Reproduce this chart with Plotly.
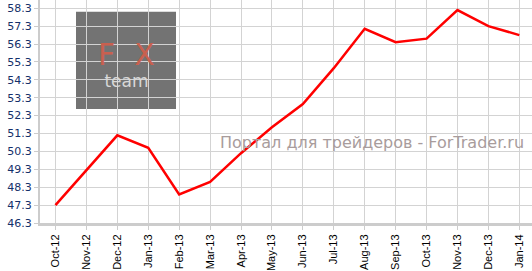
import plotly.graph_objects as go

months = ["Oct-12", "Nov-12", "Dec-12", "Jan-13", "Feb-13", "Mar-13", "Apr-13", "May-13",
          "Jun-13", "Jul-13", "Aug-13", "Sep-13", "Oct-13", "Nov-13", "Dec-13", "Jan-14"]
values = [47.3, 49.25, 51.2, 50.5, 47.9, 48.6, 50.2, 51.65,
          52.95, 54.95, 57.15, 56.4, 56.6, 58.2, 57.3, 56.8]
y_ticks = [46.3, 47.3, 48.3, 49.3, 50.3, 51.3, 52.3, 53.3, 54.3, 55.3, 56.3, 57.3, 58.3]

fig = go.Figure()
fig.add_trace(go.Scatter(x=list(range(len(months))), y=values, mode="lines",
                         line=dict(color="#ff0000", width=2.5), hoverinfo="skip"))

grid = "#d3d3d3"
fig.update_layout(
    width=532, height=271,
    margin=dict(l=40, r=0, t=0, b=42),
    paper_bgcolor="white", plot_bgcolor="white",
    showlegend=False,
    xaxis=dict(
        range=[-0.5, 15.41], tickmode="array", tickvals=list(range(len(months))),
        ticktext=months, tickangle=-90, showgrid=True, gridcolor=grid, gridwidth=1,
        showline=True, linecolor="#cccccc", linewidth=3,
        ticks="outside", ticklen=4, tickcolor="#cccccc", tickwidth=1,
        tickfont=dict(family="Liberation Sans, Arial", size=11, color="#000000"),
        zeroline=False,
    ),
    yaxis=dict(
        range=[46.3, 58.76], tickmode="array", tickvals=y_ticks,
        ticktext=[f"{v:.1f}" for v in y_ticks],
        showgrid=True, gridcolor=grid, gridwidth=1,
        showline=True, linecolor="#cccccc", linewidth=2,
        ticks="outside", ticklen=4, tickcolor="#cccccc", tickwidth=1,
        tickfont=dict(family="DejaVu Sans, Verdana", size=11, color="#14306a"),
        zeroline=False,
    ),
)

# logo box (paper coords converted from pixels)
W, H = 532 - 40, 271 - 42
def px(x):
    return (x - 40) / W
def py(y):
    return 1 - y / H

fig.add_shape(type="rect", xref="paper", yref="paper",
              x0=px(76), x1=px(176), y0=py(112), y1=py(12),
              fillcolor="#737373", line=dict(width=0), layer="below")
fig.add_annotation(xref="paper", yref="paper", x=px(126), y=py(66),
                   text='<span style="color:#c9604f;font-size:30px">F  X</span><br>team',
                   showarrow=False, xanchor="center", yanchor="middle",
                   font=dict(family="DejaVu Sans", size=17, color="#d8d8d8"))
fig.add_annotation(xref="paper", yref="paper", x=px(526), y=py(146),
                   text="Портал для трейдеров - ForTrader.ru",
                   showarrow=False, xanchor="right", yanchor="middle",
                   font=dict(family="DejaVu Sans, Verdana", size=16, color="#a89c9c"))

fig.write_html("out.html")
